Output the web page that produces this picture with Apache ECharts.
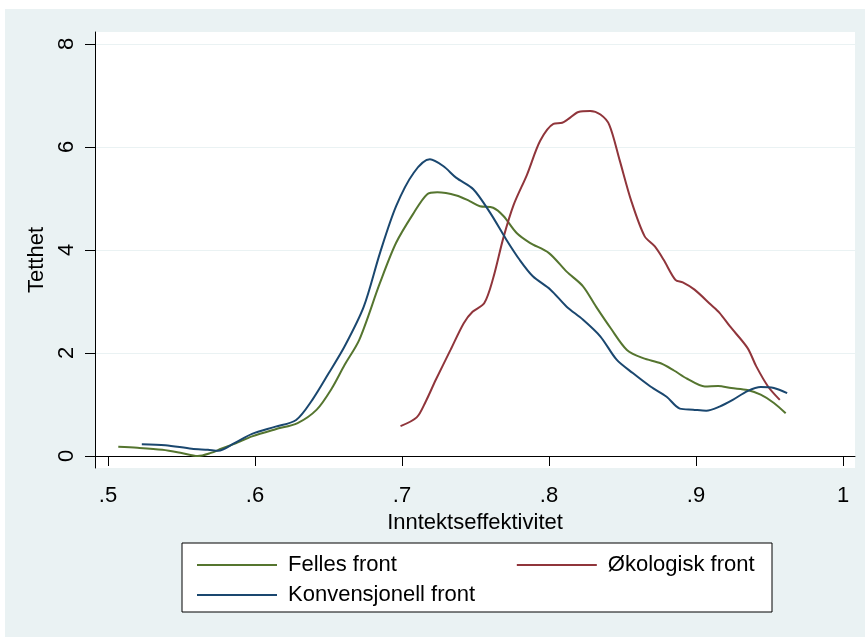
<!DOCTYPE html>
<html>
<head>
<meta charset="utf-8">
<script src="https://cdn.jsdelivr.net/npm/echarts@6/dist/echarts.min.js"></script>
<style>
  body { margin: 0; background: #fff; }
  #main { width: 865px; height: 637px; }
</style>
</head>
<body>
<div id="main"></div>
<script>
// density estimates
var fellesX = [0.507, 0.52, 0.537, 0.55, 0.561, 0.57, 0.577, 0.588, 0.598, 0.614, 0.629, 0.642, 0.652, 0.661, 0.671, 0.685, 0.696, 0.708, 0.717, 0.724, 0.737, 0.746, 0.753, 0.762, 0.769, 0.778, 0.787, 0.8, 0.812, 0.823, 0.832, 0.842, 0.853, 0.864, 0.876, 0.885, 0.894, 0.906, 0.915, 0.924, 0.935, 0.944, 0.953, 0.961];
var fellesY = [0.18, 0.16, 0.12, 0.06, 0.0, 0.06, 0.14, 0.26, 0.38, 0.52, 0.64, 0.9, 1.3, 1.77, 2.26, 3.36, 4.14, 4.72, 5.08, 5.12, 5.06, 4.95, 4.85, 4.82, 4.66, 4.33, 4.14, 3.94, 3.58, 3.3, 2.9, 2.48, 2.06, 1.9, 1.8, 1.66, 1.5, 1.35, 1.36, 1.32, 1.28, 1.19, 1.03, 0.83];

var okoX = [0.699, 0.71, 0.716, 0.723, 0.733, 0.742, 0.748, 0.756, 0.762, 0.769, 0.776, 0.785, 0.794, 0.803, 0.809, 0.813, 0.82, 0.828, 0.835, 0.841, 0.848, 0.856, 0.865, 0.872, 0.878, 0.886, 0.891, 0.899, 0.91, 0.916, 0.923, 0.935, 0.941, 0.949, 0.957];
var okoY = [0.58, 0.75, 1.05, 1.48, 2.06, 2.58, 2.8, 2.97, 3.45, 4.24, 4.88, 5.46, 6.12, 6.45, 6.47, 6.54, 6.68, 6.7, 6.63, 6.43, 5.75, 4.95, 4.27, 4.07, 3.81, 3.42, 3.37, 3.23, 2.94, 2.78, 2.52, 2.1, 1.74, 1.35, 1.09];

var konvX = [0.523, 0.539, 0.557, 0.568, 0.575, 0.586, 0.598, 0.614, 0.628, 0.639, 0.65, 0.661, 0.674, 0.685, 0.696, 0.708, 0.719, 0.728, 0.737, 0.7485, 0.76, 0.771, 0.78, 0.789, 0.801, 0.812, 0.823, 0.835, 0.846, 0.857, 0.869, 0.88, 0.889, 0.898, 0.907, 0.916, 0.925, 0.935, 0.944, 0.953, 0.962];
var konvY = [0.23, 0.21, 0.14, 0.12, 0.1, 0.25, 0.43, 0.57, 0.7, 1.09, 1.6, 2.13, 2.9, 3.94, 4.85, 5.5, 5.76, 5.63, 5.4, 5.18, 4.72, 4.2, 3.81, 3.49, 3.23, 2.9, 2.65, 2.32, 1.87, 1.61, 1.35, 1.15, 0.92, 0.9, 0.88, 0.96, 1.09, 1.26, 1.34, 1.32, 1.22];

var xTicks = [0.5, 0.6, 0.7, 0.8, 0.9, 1];
var yTicks = [0, 2, 4, 6, 8];

function pairs(xs, ys) {
    return xs.map(function (x, i) { return [x, ys[i]]; });
}

var font = 'Liberation Sans, Arial, sans-serif';
var lineIcon = 'path://M0,6 L80,6 L80,8 L0,8 Z';
var chart = echarts.init(document.getElementById('main'));

var option = {
    backgroundColor: 'transparent',
    animation: false,
    graphic: [
        { type: 'rect', z: -100, shape: { x: 5, y: 9, width: 860, height: 628 }, style: { fill: '#EAF2F3' } },
        { type: 'rect', z: 1, shape: { x: 182, y: 543, width: 590, height: 69 }, style: { fill: '#fff', stroke: '#000', lineWidth: 1 } }
    ],
    grid: {
        left: 95, right: 10, top: 32, bottom: 169,
        show: true, backgroundColor: '#fff', borderWidth: 0
    },
    legend: [
        {
            left: 192, top: 549, itemWidth: 80, itemHeight: 14, itemGap: 120, icon: lineIcon,
            data: ['Felles front', 'Økologisk front'],
            textStyle: { fontFamily: font, fontSize: 22, color: '#000', padding: [0, 0, 0, 6] }
        },
        {
            left: 192, top: 579, itemWidth: 80, itemHeight: 14, icon: lineIcon,
            data: ['Konvensjonell front'],
            textStyle: { fontFamily: font, fontSize: 22, color: '#000', padding: [0, 0, 0, 6] }
        }
    ],
    xAxis: {
        type: 'value',
        min: 0.49116, max: 1.00816,
        name: 'Inntektseffektivitet',
        nameLocation: 'middle', nameGap: 40,
        nameTextStyle: { fontFamily: font, fontSize: 22, color: '#000' },
        axisLine: { lineStyle: { color: '#000', width: 1 } },
        axisTick: { length: 10, customValues: xTicks, lineStyle: { color: '#000' } },
        axisLabel: {
            customValues: xTicks, margin: 17,
            fontFamily: font, fontSize: 22, color: '#000',
            formatter: function (v) { return v === 1 ? '1' : String(v).replace('0.', '.'); }
        },
        splitLine: { show: false }
    },
    yAxis: {
        type: 'value',
        min: -0.233, max: 8.233,
        name: 'Tetthet',
        nameLocation: 'middle', nameGap: 38,
        nameTextStyle: { fontFamily: font, fontSize: 22, color: '#000', padding: [0, 20, 0, 0] },
        axisLine: { show: true, lineStyle: { color: '#000', width: 1 } },
        axisTick: { show: true, length: 10, customValues: yTicks, lineStyle: { color: '#000' } },
        axisLabel: {
            customValues: yTicks, rotate: 90, margin: 17,
            fontFamily: font, fontSize: 22, color: '#000'
        },
        splitLine: { show: true, lineStyle: { color: '#EAF2F3', width: 1 } }
    },
    series: [
        { name: 'Felles front', type: 'line', data: pairs(fellesX, fellesY), showSymbol: false, smooth: 0.3, lineStyle: { color: '#55752F', width: 2 }, itemStyle: { color: '#55752F' } },
        { name: 'Økologisk front', type: 'line', data: pairs(okoX, okoY), showSymbol: false, smooth: 0.3, lineStyle: { color: '#90353B', width: 2 }, itemStyle: { color: '#90353B' } },
        { name: 'Konvensjonell front', type: 'line', data: pairs(konvX, konvY), showSymbol: false, smooth: 0.3, lineStyle: { color: '#1A476F', width: 2 }, itemStyle: { color: '#1A476F' } }
    ]
};

chart.setOption(option);
</script>
</body>
</html>
